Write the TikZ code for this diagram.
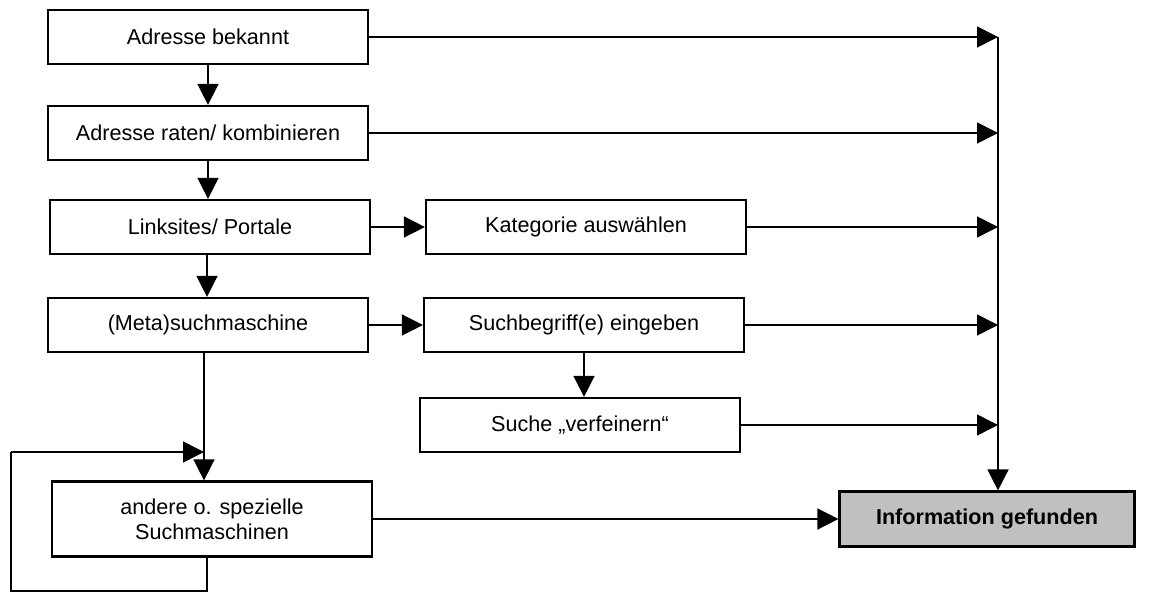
\documentclass[tikz,border=0pt]{standalone}
\usepackage{fontspec}
\setmainfont{Liberation Sans}
\usetikzlibrary{arrows.meta,positioning}
\definecolor{infoGray}{RGB}{192,192,192}

\begin{document}
\begin{tikzpicture}[
  x=0.5pt, y=-0.5pt,
  font=\fontsize{10.8}{12.5}\selectfont,
  box/.style={draw, line width=1.1pt, minimum width=160pt, minimum height=27pt,
              inner sep=0pt, align=center},
  link/.style={line width=0.75pt, -{Triangle[length=10.5pt,width=10.5pt]}},
  wire/.style={line width=0.75pt},
]
  % Scale: 1px = 0.5pt, y runs downward (0 at top)
  \useasboundingbox (0,0) rectangle (1154,592);

  % Left column
  \node[box] (bekannt) at (208,37)  {Adresse bekannt};
  \node[box] (raten)   at (208,133) {Adresse raten/ kombinieren};
  \node[box] (links)   at (210,227) {Linksites/ Portale};
  \node[box] (meta)    at (208,325) {(Meta)suchmaschine};
  \node[box, minimum height=37.5pt] (andere) at (212,519)
    {andere o. spezielle\\Suchmaschinen};

  % Middle column
  \node[box] (kategorie) at (586,227) {Kategorie auswählen};
  \node[box] (begriff)   at (584,325) {Suchbegriff(e) eingeben};
  \node[box] (fein)      at (580,425) {Suche „verfeinern“};

  % Goal
  \node[box, fill=infoGray, minimum width=147.5pt, minimum height=27.5pt,
        font=\fontsize{10.8}{12.5}\selectfont\bfseries] (info) at (987,519)
    {Information gefunden};

  % Collecting line on the right
  \coordinate (bus) at (998,37);

  % Downward steps
  \draw[link] (bekannt.south) -- (raten.north);
  \draw[link] (raten.south) -- (raten.south |- links.north);
  \draw[link] ([xshift=-1.5pt]links.south) -- ([xshift=-1.5pt]links.south |- meta.north);
  \draw[link] ([xshift=-2pt]meta.south) -- ([xshift=-2pt]meta.south |- andere.north);
  \draw[link] (begriff.south) -- (begriff.south |- fein.north);

  % Sideways steps
  \draw[link] (links.east) -- (kategorie.west);
  \draw[link] (meta.east) -- (begriff.west);
  \draw[link] (andere.east) -- (info.west);

  % Into the collecting line
  \draw[link] (bekannt.east) -- (bekannt.east -| bus);
  \draw[link] (raten.east) -- (raten.east -| bus);
  \draw[link] (kategorie.east) -- (kategorie.east -| bus);
  \draw[link] (begriff.east) -- (begriff.east -| bus);
  \draw[link] (fein.east) -- (fein.east -| bus);
  \draw[link] (bus) -- (info.north -| bus);

  % Loop back to other search engines
  \coordinate (loopdown) at (207,591);
  \coordinate (loopleft) at (11,591);
  \coordinate (loopup)   at (11,452);
  \draw[wire] (andere.south -| loopdown) -- (loopdown) -- (loopleft) -- (loopup);
  \draw[link] (loopup) -- ([xshift=-2pt]meta.south |- loopup);

\end{tikzpicture}
\end{document}
